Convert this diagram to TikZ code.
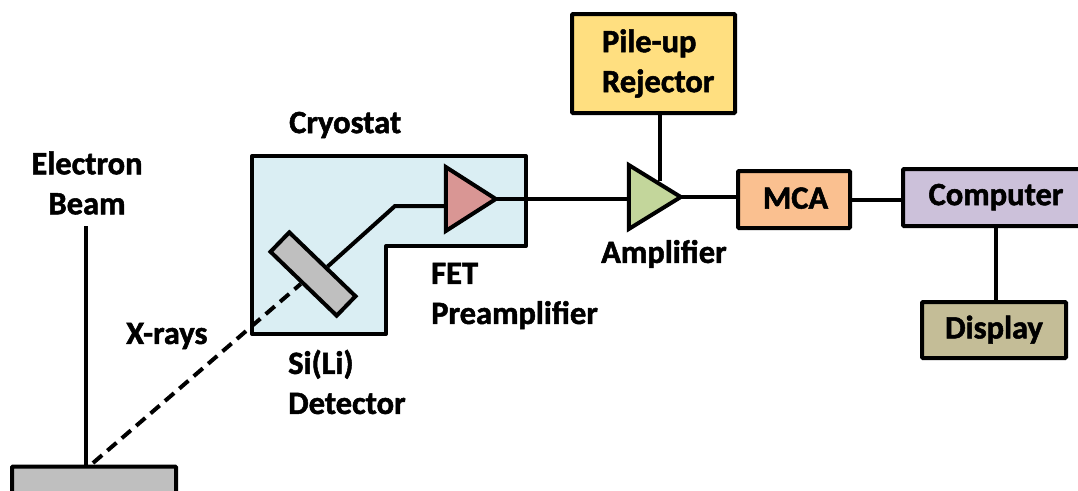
\documentclass[tikz,border=0pt]{standalone}
\usepackage{fontspec}
\setmainfont[BoldFeatures={FakeBold=1.6}]{Carlito}
\usetikzlibrary{shapes.geometric}
\definecolor{cryo}{HTML}{DAEEF3}
\definecolor{prec}{HTML}{D99694}
\definecolor{ampc}{HTML}{C3D69B}
\definecolor{mcac}{HTML}{FAC090}
\definecolor{compc}{HTML}{CCC1DA}
\definecolor{dispc}{HTML}{C4BD97}
\definecolor{pilec}{HTML}{FFDF80}
\definecolor{grayc}{HTML}{BFBFBF}
\tikzset{
  lw/.style={line width=4pt},
  wire/.style={lw,black},
  boxn/.style={draw=black,lw,rounded corners=1pt,inner sep=0pt,font=\fontsize{32.5}{40}\selectfont\bfseries,align=center},
  tri/.style={draw=black,lw,isosceles triangle,isosceles triangle stretches,inner sep=0pt,anchor=apex,minimum width=64pt,line join=miter},
  lab/.style={font=\fontsize{32.5}{40}\selectfont\bfseries,inner sep=0pt,align=left,text=black},
}
\begin{document}
\begin{tikzpicture}[x=1pt,y=-1pt]
\useasboundingbox (0,0) rectangle (1078,490);
\clip (0,0) rectangle (1078,490);
\fill[white] (0,0) rectangle (1078,490);
% cryostat
\draw[fill=cryo,lw,line join=round] (252,156) -- (526,156) -- (526,246) -- (386,246) -- (386,334) -- (252,334) -- cycle;
% components
\node[boxn,fill=grayc,minimum width=164pt,minimum height=95pt] (sample) at (94,514) {};
\node[draw=black,lw,fill=grayc,rotate=-44,minimum width=92pt,minimum height=27pt,inner sep=0pt] (det) at (313,274) {};
\node[tri,fill=prec,minimum height=50pt] (pre) at (501,199) {};
\node[tri,fill=ampc,minimum height=52pt] (amp) at (686,197) {};
\node[boxn,fill=pilec,minimum width=163pt,minimum height=99pt] (pile) at (653.5,63.5) {\raisebox{2pt}{\parbox[c]{129pt}{\hspace*{13pt}Pile-up\\\hspace*{13pt}Rejector}}};
\node[boxn,fill=mcac,minimum width=112pt,minimum height=57pt] (mca) at (794,199.5) {\raisebox{3pt}{\hspace*{3pt}MCA}};
\node[boxn,fill=compc,minimum width=186pt,minimum height=57pt] (comp) at (996,197.5) {\raisebox{6pt}{Computer}};
\node[boxn,fill=dispc,minimum width=144pt,minimum height=56pt] (disp) at (994,330) {\raisebox{6pt}{Display}};
% free ends
\coordinate (beamtop) at (86,226);
\coordinate (ampin) at (660,181);
% connectors
\draw[wire] (beamtop) -- (beamtop |- sample.north);
\draw[wire,dash pattern=on 12pt off 7pt] (93,463) -- (det.263);
\draw[wire,line join=miter] (det.71) -- (395,206) -- (pre.lower side |- 0,206);
\draw[wire,shorten <=-6pt] (pre.apex) -- (pre.apex -| amp.lower side);
\draw[wire] (ampin |- pile.south) -- (ampin);
\draw[wire,shorten <=-6pt] (amp.apex) -- (amp.apex -| mca.west);
\draw[wire] (mca.east) -- (mca.east -| comp.west);
\draw[wire] (comp.south) -- (comp.south |- disp.north);
% labels
\node[lab,align=center] (lbeam) at (87,183) {Electron\\Beam};
\node[lab,anchor=west] (lcryo) at (289,125) {Cryostat};
\node[lab,anchor=west] (lxray) at (126,336) {X-rays};
\node[lab,anchor=west] (ldet) at (288,382) {Si(Li)\\Detector};
\node[lab,anchor=west] (lfet) at (431,296) {FET\\Preamplifier};
\node[lab,anchor=west] (lamp) at (601,254) {Amplifier};
\end{tikzpicture}
\end{document}
